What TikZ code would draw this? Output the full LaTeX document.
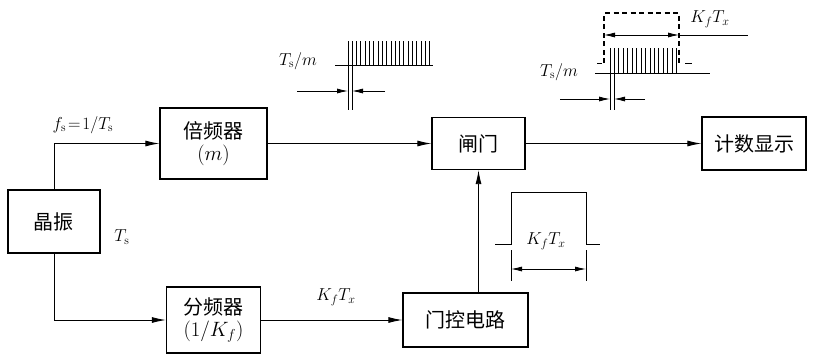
\documentclass[tikz,border=0pt]{standalone}
\usepackage{fontspec}
\newfontfamily\cjk{Noto Sans CJK SC}
\usetikzlibrary{arrows.meta}
\tikzset{
  blk/.style={draw,line width=1.3pt,inner sep=0pt,align=center,
    font=\cjk\fontsize{20}{24}\selectfont},
  lbl/.style={font=\fontsize{17}{20}\selectfont,inner sep=1pt},
  conn/.style={line width=.9pt,-{Latex[length=14pt,width=6pt]}},
  dim/.style={line width=.8pt},
  pulse/.style={line width=1pt}
}
\begin{document}
\begin{tikzpicture}[x=1pt,y=-1pt]
  \useasboundingbox (0,0) rectangle (814,354);
  % blocks
  \node[blk,minimum width=92pt,minimum height=63pt] (osc) at (54,221.5) {晶振};
  \node[blk,minimum width=107pt,minimum height=71pt] (mul) at (213.5,143.5) {倍频器\\[-2pt]$(m)$};
  \node[blk,minimum width=94pt,minimum height=66pt] (div) at (213.5,320) {分频器\\[-2pt]$(1/K_f)$};
  \node[blk,minimum width=93pt,minimum height=52pt] (gate) at (478.5,143.5) {闸门};
  \node[blk,minimum width=125pt,minimum height=54pt] (ctrl) at (465.5,320) {门控电路};
  \node[blk,minimum width=104pt,minimum height=53pt] (cnt) at (754,143.5) {计数显示};
  % connectors
  \draw[conn] (osc.north) |- (mul.west);
  \draw[conn] (osc.south) |- (div.west);
  \draw[conn] (mul.east) -- (gate.west);
  \draw[conn] (gate.east) -- (cnt.west);
  \draw[conn] (div.east) -- (ctrl.west);
  \draw[conn] (gate.south |- ctrl.north) -- (gate.south);
  \path (83,125) node[lbl] (fs) {$f_{\mathrm s}\!=\!1/T_{\mathrm s}$}
        (122,237) node[lbl] (ts) {$T_{\mathrm s}$}
        (336,297) node[lbl] (kt) {$K_fT_x$};
  % pulse train after multiplier
  \draw[pulse] (335,65) -- (433,65);
  \foreach \i in {0,...,19} \draw[pulse] (348+4.3*\i,41) -- (348+4.3*\i,65);
  \draw[dim] (348,65) -- (348,110) (352,65) -- (352,110);
  \draw[dim,-{Latex[length=11pt,width=5pt]}] (297,91) -- (348,91);
  \draw[dim,-{Latex[length=11pt,width=5pt]}] (385,91) -- (352,91);
  \node[lbl] (tm1) at (298,61) {$T_{\mathrm s}/m$};
  % gated pulse train
  \draw[dim,line width=1.1pt,dash pattern=on 5pt off 3.5pt] (604,63) -- (604,13) -- (679,13) -- (679,63);
  \draw[dim] (597,63) -- (602,63) (685,63) -- (692,63);
  \draw[pulse] (595,73) -- (710,73);
  \foreach \i in {0,...,15} \draw[pulse] (610+4.45*\i,48) -- (610+4.45*\i,73);
  \draw[dim,{Latex[length=11pt,width=5pt]}-{Latex[length=11pt,width=5pt]}] (604,35) -- (679,35);
  \draw[dim] (679,35) -- (748,35);
  \node[lbl] (kt2) at (710,19) {$K_fT_x$};
  \draw[dim] (610,73) -- (610,110) (614,73) -- (614,110);
  \draw[dim,-{Latex[length=11pt,width=5pt]}] (560,99) -- (610,99);
  \draw[dim,-{Latex[length=11pt,width=5pt]}] (645,99) -- (614,99);
  \node[lbl] (tm2) at (559,72) {$T_{\mathrm s}/m$};
  % gate signal
  \draw[pulse] (495,244) -- (511,244) -- (511,192) -- (586,192) -- (586,244) -- (600,244);
  \draw[dim] (511,250) -- (511,281) (586,250) -- (586,281);
  \draw[dim,{Latex[length=11pt,width=5pt]}-{Latex[length=11pt,width=5pt]}] (511,269) -- (586,269);
  \node[lbl] (kt3) at (546,241) {$K_fT_x$};
\end{tikzpicture}
\end{document}
